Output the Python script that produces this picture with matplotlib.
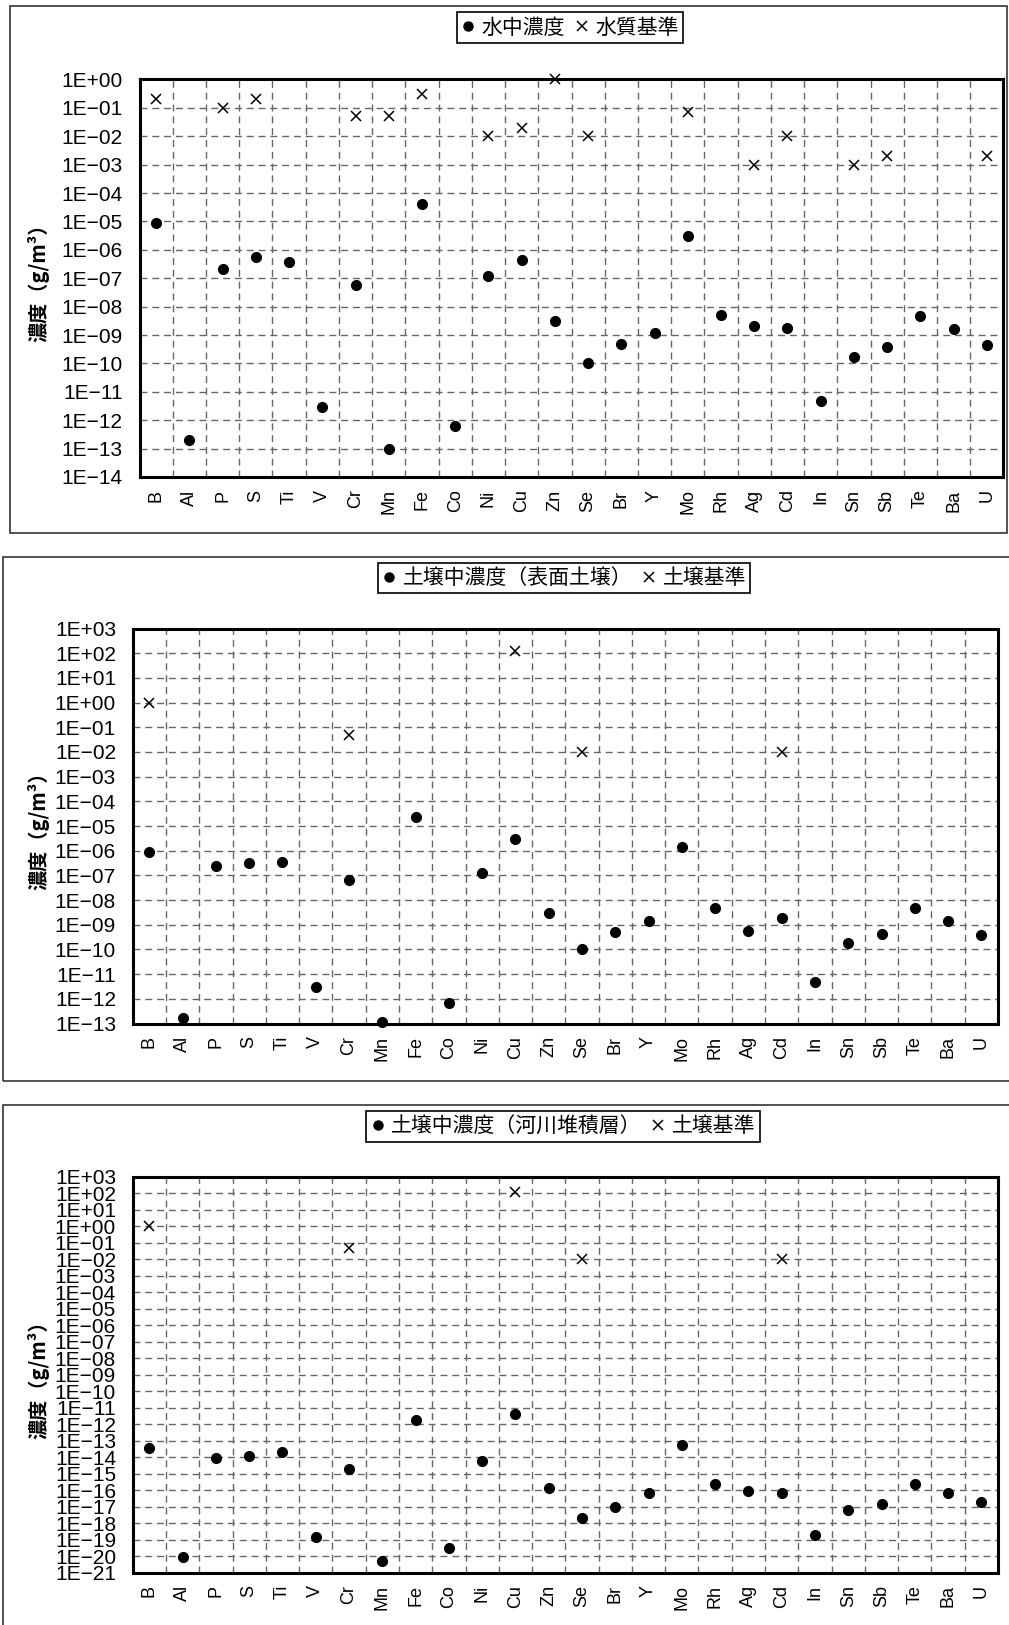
import numpy as np
import matplotlib.pyplot as plt
from matplotlib.ticker import LogLocator, FuncFormatter, FixedLocator, NullLocator
from matplotlib.patches import Rectangle
from matplotlib.lines import Line2D

plt.rcParams['font.family'] = ['Liberation Sans', 'Noto Sans CJK JP', 'DejaVu Sans']
JP = ['Noto Sans CJK JP', 'DejaVu Sans']
NARROW = ['Liberation Sans Narrow', 'Liberation Sans', 'DejaVu Sans']
nan = np.nan

elements = ['B', 'Al', 'P', 'S', 'Ti', 'V', 'Cr', 'Mn', 'Fe', 'Co', 'Ni', 'Cu', 'Zn',
            'Se', 'Br', 'Y', 'Mo', 'Rh', 'Ag', 'Cd', 'In', 'Sn', 'Sb', 'Te', 'Ba', 'U']

# 水中濃度 / 水質基準
water_conc = [8.7e-6, 1.95e-13, 2.2e-7, 5.5e-7, 3.7e-7, 3e-12, 6e-8, 1e-13, 4e-5, 6.3e-13,
              1.2e-7, 4.3e-7, 3e-9, 1e-10, 5e-10, 1.2e-9, 3e-6, 5.1e-9, 2.1e-9, 1.8e-9,
              4.6e-12, 1.7e-10, 3.9e-10, 4.6e-9, 1.6e-9, 4.3e-10]
water_std = [0.2, nan, 0.1, 0.2, nan, nan, 0.05, 0.05, 0.3, nan,
             0.01, 0.02, 1.0, 0.01, nan, nan, 0.07, nan, 0.001, 0.01,
             nan, 0.001, 0.002, nan, nan, 0.002]

# 土壌中濃度(表面土壌)
surface_conc = [9e-7, 1.7e-13, 2.3e-7, 3.1e-7, 3.6e-7, 3e-12, 6.8e-8, 1.1e-13, 2.4e-5, 7e-13,
                1.25e-7, 3e-6, 3e-9, 1e-10, 4.9e-10, 1.4e-9, 1.4e-6, 4.7e-9, 5.8e-10, 1.9e-9,
                4.9e-12, 1.8e-10, 4.3e-10, 4.7e-9, 1.4e-9, 3.8e-10]

# 土壌中濃度(河川堆積層)
sediment_conc = [3.5e-14, 8.5e-21, 9e-15, 1.2e-14, 2e-14, 1.5e-19, 2e-15, 5.3e-21, 1.7e-12, 2.9e-20,
                 5.9e-15, 4e-12, 1.35e-16, 1.9e-18, 9.5e-18, 6.6e-17, 5.8e-14, 2.2e-16, 8.3e-17, 6.6e-17,
                 2e-19, 5.9e-18, 1.4e-17, 2.2e-16, 6.6e-17, 1.8e-17]

# 土壌基準
soil_std = [1.0, nan, nan, nan, nan, nan, 0.05, nan, nan, nan,
            nan, 125, nan, 0.01, nan, nan, nan, nan, nan, 0.01,
            nan, nan, nan, nan, nan, nan]

W, H = 1009, 1625
fig = plt.figure(figsize=(W / 100, H / 100), dpi=100)


def px_box(l, t, r, b):
    fig.patches.append(Rectangle((l / W, 1 - b / H), (r - l) / W, (b - t) / H,
                                 transform=fig.transFigure, fill=False,
                                 edgecolor='#222222', linewidth=1.1))


def fmt(v, pos):
    e = int(round(np.log10(v)))
    return ('1E%+03d' % e).replace('-', '\u2212')


def panel(l, t, r, b, conc, std, ylo, yhi, lab1, lab2, legxy):
    ax = fig.add_axes([l / W, 1 - b / H, (r - l) / W, (b - t) / H])
    x = np.arange(len(elements))
    ax.plot(x, conc, 'o', color='black', ms=7, clip_on=False, zorder=5)
    ax.plot(x, std, 'x', color='black', ms=7.5, mew=1.1, clip_on=False, zorder=5)
    ax.set_yscale('log')
    ax.set_ylim(ylo, yhi)
    ax.set_xlim(-0.5, len(elements) - 0.5)

    ax.yaxis.set_major_locator(LogLocator(base=10, numticks=60))
    ax.yaxis.set_minor_locator(NullLocator())
    ax.yaxis.set_major_formatter(FuncFormatter(fmt))
    ax.set_xticks(x)
    ax.set_xticklabels(elements, rotation=90, fontsize=13)
    ax.xaxis.set_minor_locator(FixedLocator(x[:-1] + 0.5))
    ax.tick_params(axis='x', which='both', length=0, pad=9)
    ax.tick_params(axis='y', which='both', length=0, pad=12)
    for tl in ax.get_yticklabels():
        tl.set_family(NARROW)
        tl.set_fontsize(15)

    ax.grid(True, axis='y', which='major', color='#666666', lw=1, ls=(0, (5, 3.5)))
    ax.grid(True, axis='x', which='minor', color='#666666', lw=1, ls=(0, (5, 3.5)))
    ax.grid(False, axis='x', which='major')
    for s in ax.spines.values():
        s.set_linewidth(2.2)
        s.set_color('black')

    ax.set_ylabel('濃度（g/m³）', family=JP, fontsize=14.5, fontweight='bold')
    # right edge of the rotated label at ~49 px from the figure's left
    ax.yaxis.set_label_coords((49 - l) / (r - l), 0.5)

    handles = [Line2D([], [], ls='none', marker='o', color='black', ms=6.5),
               Line2D([], [], ls='none', marker='x', color='black', ms=7, mew=1.1)]
    leg = ax.legend(handles, [lab1, lab2], ncol=2, loc='center',
                    bbox_to_anchor=(legxy[0] / W, 1 - legxy[1] / H),
                    bbox_transform=fig.transFigure, prop={'family': JP, 'size': 15},
                    frameon=True, fancybox=False, framealpha=1, edgecolor='black',
                    borderpad=0.2, handlelength=0.7, handletextpad=0.3,
                    columnspacing=0.45, borderaxespad=0)
    leg.get_frame().set_linewidth(1.2)
    return ax


# panel frames
px_box(9.5, 6, 1007, 533)
px_box(3, 556.7, 1020, 1081)
px_box(3, 1105, 1020, 1640)

ax1 = panel(139.5, 79.5, 1003.5, 477, water_conc, water_std, 1e-14, 1e0,
            '水中濃度', '水質基準', (570, 27.5))
ax2 = panel(132.7, 628.5, 998, 1023.5, surface_conc, soil_std, 1e-13, 1e3,
            '土壌中濃度（表面土壌）', '土壌基準', (564, 578))
ax3 = panel(132.7, 1177, 998, 1572.5, sediment_conc, soil_std, 1e-21, 1e3,
            '土壌中濃度（河川堆積層）', '土壌基準', (563, 1126.5))

fig.savefig('out.png', dpi=100)
